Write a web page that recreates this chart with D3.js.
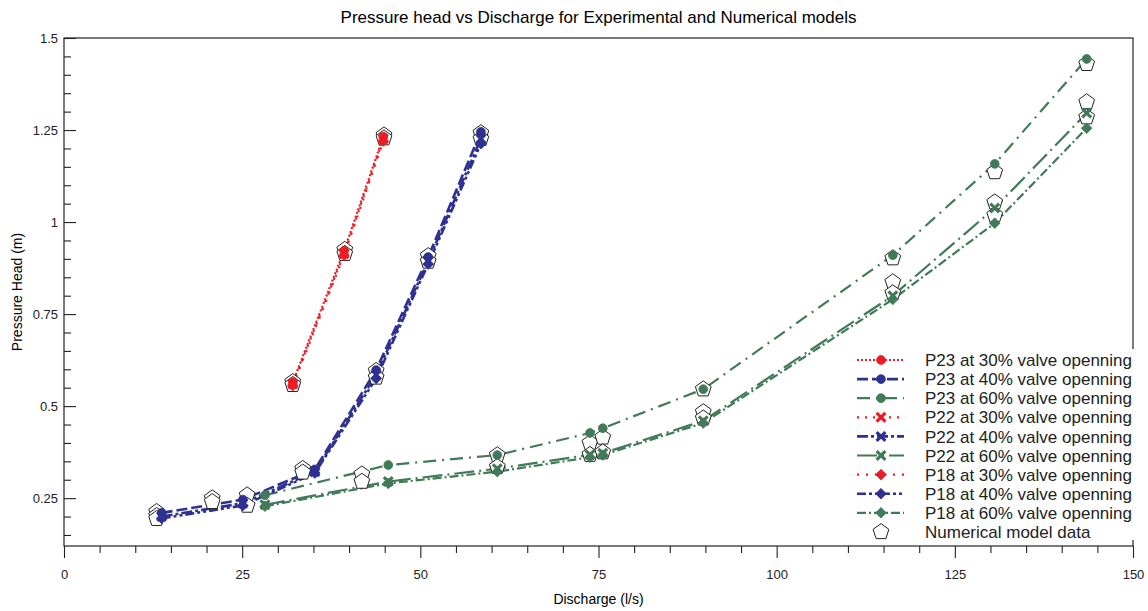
<!DOCTYPE html>
<html>
<head>
<meta charset="utf-8">
<script src="https://cdn.jsdelivr.net/npm/d3@7"></script>
<style>
  html, body { margin: 0; padding: 0; background: #fff; }
  svg { display: block; font-family: Arial, "Liberation Sans", sans-serif; }
</style>
</head>
<body>
<svg id="chart" width="1148" height="611"></svg>
<script>
// Discharge (l/s) for each valve opening
const flow30 = [32.1, 39.3, 44.8];
const flow40 = [13.7, 25.1, 35.2, 43.8, 51.1, 58.5];
const flow60 = [28.2, 45.5, 60.8, 73.8, 75.6, 89.7, 116.3, 130.6, 143.5];

// Measured pressure head (m) at piezometers P23, P22, P18
const p23_30 = [0.565, 0.922, 1.232];
const p22_30 = [0.560, 0.914, 1.226];
const p18_30 = [0.556, 0.910, 1.220];

const p23_40 = [0.210, 0.246, 0.328, 0.598, 0.905, 1.245];
const p22_40 = [0.200, 0.236, 0.322, 0.585, 0.894, 1.226];
const p18_40 = [0.195, 0.230, 0.318, 0.575, 0.886, 1.213];

const p23_60 = [0.258, 0.340, 0.367, 0.427, 0.440, 0.546, 0.910, 1.158, 1.443];
const p22_60 = [0.232, 0.295, 0.330, 0.368, 0.372, 0.460, 0.800, 1.038, 1.296];
const p18_60 = [0.228, 0.290, 0.322, 0.361, 0.367, 0.454, 0.790, 0.997, 1.255];

// Numerical model results
const numFlow = [13.0, 13.0, 13.0, 20.8, 20.8, 25.7, 25.7, 33.5, 33.5,
                 32.1, 32.1, 39.4, 39.4, 44.9, 44.9,
                 43.8, 43.8, 51.1, 51.1, 58.5, 58.5,
                 41.8, 41.8, 60.8, 60.8, 73.8, 73.8, 75.6, 75.6,
                 89.7, 89.7, 89.7, 116.3, 116.3, 116.3,
                 130.6, 130.6, 130.6, 143.5, 143.5, 143.5];
const numHead = [0.213, 0.202, 0.194, 0.250, 0.240, 0.258, 0.230, 0.330, 0.320,
                 0.566, 0.558, 0.925, 0.914, 1.236, 1.228,
                 0.596, 0.578, 0.908, 0.893, 1.242, 1.226,
                 0.315, 0.295, 0.367, 0.335, 0.400, 0.368, 0.415, 0.375,
                 0.546, 0.484, 0.467, 0.902, 0.837, 0.807,
                 1.136, 1.054, 1.019, 1.430, 1.326, 1.285];

const xMajorTicks = [0, 25, 50, 75, 100, 125, 150];
const xTickLabels = ["0", "25", "50", "75", "100", "125", "150"];
const yMajorTicks = [0.25, 0.5, 0.75, 1, 1.25, 1.5];
const yTickLabels = ["0.25", "0.5", "0.75", "1", "1.25", "1.5"];

const seriesNames = [
  "P23 at 30% valve openning", "P23 at 40% valve openning", "P23 at 60% valve openning",
  "P22 at 30% valve openning", "P22 at 40% valve openning", "P22 at 60% valve openning",
  "P18 at 30% valve openning", "P18 at 40% valve openning", "P18 at 60% valve openning"
];
const numName = "Numerical model data";

// ---- layout ----
const svg = d3.select("#chart");
const mLeft = 64, mRight = 1133, mTop = 38, mBottom = 546;

const x = d3.scaleLinear().domain([0, 150]).range([mLeft, mRight]);
const y = d3.scaleLinear().domain([0.12, 1.5]).range([mBottom, mTop]);

const RED = "#ed1c24", BLUE = "#2e3192", GREEN = "#417a58";

const series = [
  { name: seriesNames[0], q: flow30, h: p23_30, color: RED,   dash: "2,2",           width: 2.2, marker: "circle" },
  { name: seriesNames[1], q: flow40, h: p23_40, color: BLUE,  dash: "11,4",          width: 2.6, marker: "circle" },
  { name: seriesNames[2], q: flow60, h: p23_60, color: GREEN, dash: "13,6,2,6",      width: 2.2, marker: "circle" },
  { name: seriesNames[3], q: flow30, h: p22_30, color: RED,   dash: "2,6",           width: 2.2, marker: "x" },
  { name: seriesNames[4], q: flow40, h: p22_40, color: BLUE,  dash: "11,3,3,3",      width: 2.6, marker: "x" },
  { name: seriesNames[5], q: flow60, h: p22_60, color: GREEN, dash: "20,5,2,5",      width: 2.2, marker: "x" },
  { name: seriesNames[6], q: flow30, h: p18_30, color: RED,   dash: "2,7",           width: 2.2, marker: "diamond" },
  { name: seriesNames[7], q: flow40, h: p18_40, color: BLUE,  dash: "9,3,3,3,3,3",   width: 2.6, marker: "diamond" },
  { name: seriesNames[8], q: flow60, h: p18_60, color: GREEN, dash: "9,3,2,3",       width: 2.2, marker: "diamond" }
];

// pentagon symbol for the numerical model points
const pentagon = {
  draw(ctx, size) {
    const r = Math.sqrt(size / 2.378);
    for (let i = 0; i < 5; i++) {
      const a = -Math.PI / 2 + i * 2 * Math.PI / 5;
      const px = r * Math.cos(a), py = r * Math.sin(a);
      if (i === 0) ctx.moveTo(px, py); else ctx.lineTo(px, py);
    }
    ctx.closePath();
  }
};
const pentPath = d3.symbol().type(pentagon).size(2.378 * 8.3 * 8.3)();

function markerPath(kind) {
  if (kind === "circle") return d3.symbol().type(d3.symbolCircle).size(Math.PI * 4.4 * 4.4)();
  if (kind === "x") return d3.symbol().type(d3.symbolX).size(52)();
  return d3.symbol().type(d3.symbolSquare).size(56)();
}
function drawMarker(g, kind, color, cx, cy) {
  const p = g.append("path")
    .attr("d", markerPath(kind))
    .attr("transform", `translate(${cx},${cy})` + (kind === "diamond" ? " rotate(45)" : ""));
  if (kind === "x") p.attr("fill", "none").attr("stroke", color).attr("stroke-width", 3.2);
  else p.attr("fill", color).attr("stroke", color).attr("stroke-width", 0.8);
}

// ---- title ----
svg.append("text")
  .attr("x", (mLeft + mRight) / 2).attr("y", 23)
  .attr("text-anchor", "middle")
  .attr("font-size", 17)
  .text("Pressure head vs Discharge for Experimental and Numerical models");

// ---- axes ----
const yMinor = d3.range(0.15, 1.5, 0.05).map(v => +v.toFixed(2)).filter(v => !yMajorTicks.some(t => Math.abs(t - v) < 1e-6));
const xMinor = d3.range(5, 150, 5).filter(v => v % 25 !== 0);

const yAxis = d3.axisLeft(y).tickValues(yMajorTicks).tickSize(-12).tickPadding(6)
  .tickFormat((d, i) => yTickLabels[i]);
const yAxisMinor = d3.axisLeft(y).tickValues(yMinor).tickSize(-7).tickFormat("");
const xAxis = d3.axisBottom(x).tickValues(xMajorTicks).tickSize(12).tickPadding(12)
  .tickFormat((d, i) => xTickLabels[i]);
const xAxisMinor = d3.axisBottom(x).tickValues(xMinor).tickSize(7).tickFormat("");

function styleAxis(g) {
  g.select(".domain").remove();
  g.selectAll("line").attr("stroke", "#222").attr("stroke-width", 1.1);
  g.selectAll("text").attr("font-size", 13).attr("fill", "#222").attr("font-family", "Arial, 'Liberation Sans', sans-serif");
}
svg.append("g").attr("transform", `translate(${mLeft},0)`).call(yAxis).call(styleAxis);
svg.append("g").attr("transform", `translate(${mLeft},0)`).call(yAxisMinor).call(styleAxis);
svg.append("g").attr("transform", `translate(0,${mBottom})`).call(xAxis).call(styleAxis);
svg.append("g").attr("transform", `translate(0,${mBottom})`).call(xAxisMinor).call(styleAxis);

svg.append("text")
  .attr("x", (mLeft + mRight) / 2).attr("y", 604)
  .attr("text-anchor", "middle").attr("font-size", 14)
  .text("Discharge (l/s)");
svg.append("text")
  .attr("transform", `translate(22,${(mTop + mBottom) / 2}) rotate(-90)`)
  .attr("text-anchor", "middle").attr("font-size", 14)
  .text("Pressure Head (m)");

// ---- series lines ----
const line = d3.line().x(d => x(d[0])).y(d => y(d[1]));
const plot = svg.append("g");
series.forEach(s => {
  plot.append("path")
    .datum(s.q.map((q, i) => [q, s.h[i]]))
    .attr("d", line)
    .attr("fill", "none")
    .attr("stroke", s.color)
    .attr("stroke-width", s.width)
    .attr("stroke-dasharray", s.dash);
});

// ---- numerical model points ----
plot.selectAll("path.num")
  .data(numFlow.map((q, i) => [q, numHead[i]]))
  .join("path")
  .attr("class", "num")
  .attr("d", pentPath)
  .attr("transform", d => `translate(${x(d[0])},${y(d[1])})`)
  .attr("fill", "#fff")
  .attr("stroke", "#222")
  .attr("stroke-width", 1);

// ---- experimental markers ----
series.forEach(s => {
  s.q.forEach((q, i) => drawMarker(plot, s.marker, s.color, x(q), y(s.h[i])));
});

// ---- frame ----
svg.append("rect")
  .attr("x", mLeft).attr("y", mTop)
  .attr("width", mRight - mLeft).attr("height", mBottom - mTop)
  .attr("fill", "none").attr("stroke", "#222").attr("stroke-width", 1.2);

// ---- legend ----
const legend = svg.append("g");
legend.append("rect")
  .attr("x", 846).attr("y", 349).attr("width", 300).attr("height", 191)
  .attr("fill", "#fff");
const rowY = i => 360 + i * 19.1;
series.forEach((s, i) => {
  const yy = rowY(i);
  legend.append("line")
    .attr("x1", 857).attr("x2", 904).attr("y1", yy).attr("y2", yy)
    .attr("stroke", s.color).attr("stroke-width", s.width)
    .attr("stroke-dasharray", s.dash);
  drawMarker(legend, s.marker, s.color, 881, yy);
  legend.append("text")
    .attr("x", 925).attr("y", yy).attr("dy", "0.36em")
    .attr("font-size", 17).attr("fill", "#222")
    .text(s.name);
});
legend.append("path")
  .attr("d", pentPath)
  .attr("transform", `translate(881,${rowY(9)})`)
  .attr("fill", "#fff").attr("stroke", "#222").attr("stroke-width", 1);
legend.append("text")
  .attr("x", 925).attr("y", rowY(9)).attr("dy", "0.36em")
  .attr("font-size", 17).attr("fill", "#222")
  .text(numName);
</script>
</body>
</html>
